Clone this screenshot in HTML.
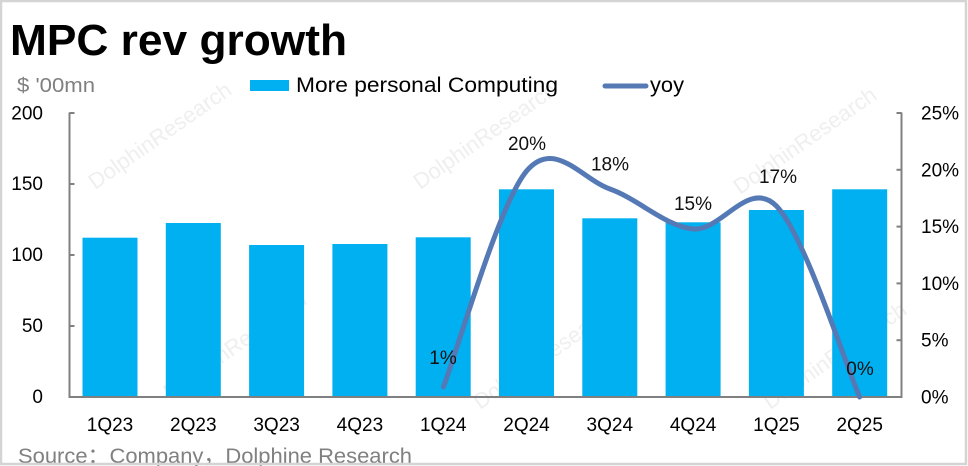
<!DOCTYPE html>
<html>
<head>
<meta charset="utf-8">
<style>
html,body{margin:0;padding:0;background:#fff;}
body{width:968px;height:466px;overflow:hidden;}
svg{display:block;font-family:"Liberation Sans","Noto Sans CJK SC",sans-serif;}
</style>
</head>
<body>
<svg width="968" height="466" viewBox="0 0 968 466" xmlns="http://www.w3.org/2000/svg">
  <rect x="0" y="0" width="968" height="466" fill="#ffffff"/>

  <!-- faint watermarks -->
  <g fill="#efefef" font-size="22" font-family="Liberation Sans, sans-serif">
    <text x="95" y="190" transform="rotate(-35 95 190)">DolphinResearch</text>
    <text x="420" y="190" transform="rotate(-35 420 190)">DolphinResearch</text>
    <text x="740" y="195" transform="rotate(-35 740 195)">DolphinResearch</text>
    <text x="170" y="400" transform="rotate(-35 170 400)">DolphinResearch</text>
    <text x="480" y="410" transform="rotate(-35 480 410)">DolphinResearch</text>
    <text x="770" y="410" transform="rotate(-35 770 410)">DolphinResearch</text>
  </g>
  <text x="1060" y="444" font-size="30" fill="#f0f0f0" transform="translate(-0 0)">LONGPORT</text>

  <!-- title -->
  <text x="10" y="55" font-size="44" font-weight="bold" fill="#000" textLength="337" lengthAdjust="spacingAndGlyphs">MPC rev growth</text>
  <text x="17" y="92" font-size="20" fill="#808080" textLength="78" lengthAdjust="spacingAndGlyphs">$ '00mn</text>

  <!-- legend -->
  <rect x="250" y="80" width="39" height="11" fill="#00B0F0"/>
  <text x="296" y="92" font-size="21" fill="#000" textLength="262" lengthAdjust="spacingAndGlyphs">More personal Computing</text>
  <line x1="605" y1="86" x2="646" y2="86" stroke="#5479B5" stroke-width="5" stroke-linecap="round"/>
  <text x="650" y="92" font-size="21" fill="#000" textLength="34" lengthAdjust="spacingAndGlyphs">yoy</text>

  <!-- bars -->
  <g fill="#00B0F0">
    <rect x="82.5" y="237.7" width="55" height="159.3"/>
    <rect x="165.8" y="223" width="55" height="174"/>
    <rect x="249.1" y="245" width="55" height="152"/>
    <rect x="332.4" y="244" width="55" height="153"/>
    <rect x="415.7" y="237.3" width="55" height="159.7"/>
    <rect x="499" y="189.3" width="55" height="207.7"/>
    <rect x="582.3" y="218.3" width="55" height="178.7"/>
    <rect x="665.6" y="222.3" width="55" height="174.7"/>
    <rect x="748.9" y="210" width="55" height="187"/>
    <rect x="832.2" y="189.3" width="55" height="207.7"/>
  </g>

  <!-- axes -->
  <g stroke="#808080" fill="none">
    <line x1="69.5" y1="112.5" x2="69.5" y2="397" stroke-width="2"/>
    <line x1="69.5" y1="113" x2="74.5" y2="113" stroke-width="2"/>
    <line x1="69.5" y1="184" x2="74.5" y2="184" stroke-width="2"/>
    <line x1="69.5" y1="255" x2="74.5" y2="255" stroke-width="2"/>
    <line x1="69.5" y1="326" x2="74.5" y2="326" stroke-width="2"/>
    <line x1="901.5" y1="112.5" x2="901.5" y2="397" stroke-width="2"/>
    <line x1="896.5" y1="113" x2="901.5" y2="113" stroke-width="2"/>
    <line x1="896.5" y1="169.8" x2="901.5" y2="169.8" stroke-width="2"/>
    <line x1="896.5" y1="226.6" x2="901.5" y2="226.6" stroke-width="2"/>
    <line x1="896.5" y1="283.4" x2="901.5" y2="283.4" stroke-width="2"/>
    <line x1="896.5" y1="340.2" x2="901.5" y2="340.2" stroke-width="2"/>
    <line x1="68.5" y1="397" x2="902.5" y2="397" stroke-width="2"/>
  </g>

  <!-- yoy line -->
  <path d="M443.4,387 C457.3,351 498.85,204 526.6,171 C554.35,138 582.15,179.33 609.9,189 C637.65,198.67 665.35,226.17 693.1,229 C720.85,231.83 748.65,178 776.4,206 C804.15,234 845.7,365.17 859.6,397"
        fill="none" stroke="#5479B5" stroke-width="5" stroke-linecap="round" stroke-linejoin="round"/>

  <!-- left axis labels -->
  <g font-size="19" fill="#000" text-anchor="end">
    <text x="43" y="119.5">200</text>
    <text x="43" y="190">150</text>
    <text x="43" y="261">100</text>
    <text x="43" y="332">50</text>
    <text x="43" y="403">0</text>
  </g>
  <!-- right axis labels -->
  <g font-size="19" fill="#000" text-anchor="start">
    <text x="921" y="119.5">25%</text>
    <text x="921" y="176.3">20%</text>
    <text x="921" y="233.1">15%</text>
    <text x="921" y="290">10%</text>
    <text x="921" y="346.7">5%</text>
    <text x="921" y="403.5">0%</text>
  </g>
  <!-- x labels -->
  <g font-size="19" fill="#000" text-anchor="middle">
    <text x="110" y="431">1Q23</text>
    <text x="193.3" y="431">2Q23</text>
    <text x="276.6" y="431">3Q23</text>
    <text x="359.9" y="431">4Q23</text>
    <text x="443.2" y="431">1Q24</text>
    <text x="526.5" y="431">2Q24</text>
    <text x="609.8" y="431">3Q24</text>
    <text x="693.1" y="431">4Q24</text>
    <text x="776.4" y="431">1Q25</text>
    <text x="859.7" y="431">2Q25</text>
  </g>
  <!-- data labels -->
  <g font-size="19" fill="#111" text-anchor="middle">
    <text x="443" y="364">1%</text>
    <text x="527" y="150">20%</text>
    <text x="610" y="170.5">18%</text>
    <text x="693" y="210">15%</text>
    <text x="778" y="183">17%</text>
    <text x="860" y="375">0%</text>
  </g>

  <!-- source -->
  <text x="18" y="463" font-size="21" fill="#808080" textLength="394" lengthAdjust="spacingAndGlyphs">Source：Company，Dolphine Research</text>

  <!-- outer border -->
  <rect x="1" y="1" width="965" height="463" fill="none" stroke="#d4d4d4" stroke-width="2.5"/>
</svg>
</body>
</html>
